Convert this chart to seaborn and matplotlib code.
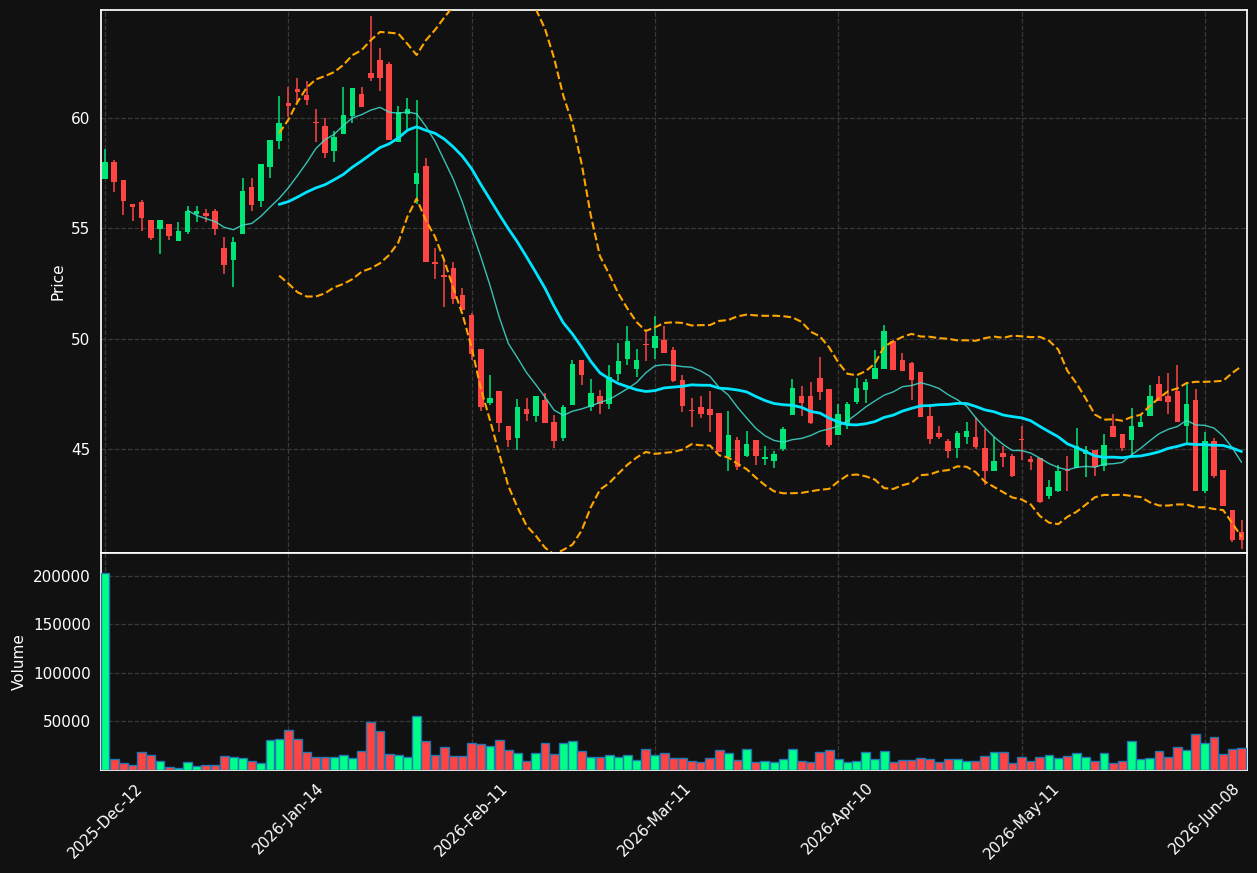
import numpy as np
import pandas as pd
import matplotlib
matplotlib.use("Agg")
import matplotlib.pyplot as plt
import seaborn as sns

# ---- data ----
opens = [57.26, 58.02, 57.20, 56.11, 56.20, 55.38, 54.98, 55.20, 54.44, 54.83,
         55.67, 55.68, 55.79, 54.11, 53.56, 54.76, 56.88, 56.26, 57.76, 58.97,
         60.70, 61.33, 61.03, 59.79, 59.62, 58.50, 59.27, 60.08, 61.10, 62.03,
         62.62, 62.44, 58.91, 60.18, 57.00, 57.81, 53.49, 52.90, 53.22, 52.00,
         51.09, 49.52, 47.06, 47.61, 46.02, 45.48, 46.83, 46.48, 47.20, 46.24,
         45.48, 46.98, 49.02, 46.92, 47.38, 47.02, 48.39, 49.08, 48.61, 49.76,
         49.58, 49.92, 49.47, 48.11, 46.76, 46.92, 46.83, 46.61, 44.62, 45.42,
         44.70, 45.42, 44.53, 44.44, 44.98, 46.53, 47.38, 47.42, 48.20, 47.70,
         45.62, 46.09, 47.12, 47.65, 48.15, 48.62, 49.89, 49.02, 48.89, 48.48,
         46.47, 45.74, 45.38, 45.03, 45.53, 45.52, 45.06, 43.98, 44.83, 44.70,
         45.44, 44.56, 44.58, 42.85, 43.11, 44.03, 44.12, 44.76, 44.95, 44.21,
         46.02, 45.68, 45.41, 45.98, 46.48, 47.92, 47.42, 47.61, 46.06, 47.20,
         43.08, 45.38, 44.06, 42.23, 41.24]
closes = [58.03, 57.08, 56.26, 55.98, 55.48, 54.58, 55.38, 54.67, 54.88, 55.79,
          55.79, 55.58, 54.98, 53.35, 54.38, 56.70, 56.08, 57.92, 59.02, 59.79,
          60.56, 61.16, 60.80, 59.76, 58.41, 59.12, 60.12, 61.35, 60.50, 61.82,
          61.82, 58.99, 60.27, 60.42, 57.52, 53.46, 53.37, 52.78, 51.79, 51.30,
          49.30, 46.92, 47.33, 46.17, 45.42, 46.92, 46.58, 47.41, 46.17, 45.35,
          46.92, 48.83, 48.35, 47.52, 47.02, 48.26, 48.97, 49.88, 49.02, 49.71,
          50.11, 49.35, 48.06, 46.94, 46.73, 46.56, 46.53, 44.85, 45.61, 44.17,
          45.24, 44.70, 44.65, 44.79, 45.92, 47.74, 47.08, 46.17, 47.58, 45.17,
          46.56, 47.02, 47.74, 48.03, 48.67, 50.33, 48.58, 48.53, 48.12, 46.44,
          45.44, 45.53, 44.89, 45.74, 45.79, 45.08, 43.98, 44.45, 44.62, 43.76,
          45.41, 44.39, 42.60, 43.26, 44.02, 43.98, 45.12, 44.95, 44.20, 45.18,
          45.56, 45.02, 46.02, 46.24, 47.42, 47.17, 47.12, 46.21, 47.02, 43.08,
          45.38, 43.79, 42.39, 40.88, 40.88]
highs = [58.59, 58.11, 57.20, 56.11, 56.29, 55.38, 55.38, 55.20, 55.27, 56.00,
         56.00, 55.86, 55.86, 54.61, 54.61, 57.27, 57.27, 57.92, 59.02, 61.02,
         61.42, 61.82, 61.69, 60.42, 60.02, 59.41, 61.41, 61.35, 61.42, 64.61,
         63.19, 62.54, 60.53, 60.92, 60.83, 58.21, 54.12, 53.54, 53.46, 52.31,
         51.15, 49.55, 48.33, 47.61, 46.02, 47.24, 47.33, 47.41, 47.53, 46.55,
         46.97, 49.02, 49.02, 48.15, 47.65, 48.80, 49.80, 50.58, 49.55, 50.30,
         51.02, 50.58, 49.62, 48.33, 47.32, 47.38, 47.61, 46.61, 46.70, 45.53,
         45.79, 45.42, 45.11, 44.92, 45.98, 48.15, 47.83, 48.02, 49.15, 47.70,
         47.02, 47.11, 48.20, 48.18, 49.50, 50.61, 49.95, 49.36, 48.95, 48.48,
         47.05, 46.02, 45.45, 45.79, 46.23, 46.44, 45.91, 45.53, 45.15, 44.77,
         46.02, 44.70, 44.58, 43.59, 44.29, 44.70, 45.95, 45.11, 44.95, 45.68,
         46.59, 45.68, 46.86, 46.52, 47.91, 48.30, 48.45, 48.82, 47.98, 47.73,
         45.76, 45.50, 44.06, 42.23, 41.77]
lows = [57.26, 56.67, 55.59, 55.35, 54.86, 54.45, 53.85, 54.45, 54.44, 54.76,
        55.27, 55.27, 54.68, 52.95, 52.35, 54.76, 55.77, 55.98, 57.27, 58.59,
        60.03, 60.73, 60.60, 58.93, 58.20, 58.00, 59.27, 59.77, 60.50, 61.68,
        61.21, 58.99, 58.91, 59.52, 56.11, 53.46, 52.71, 51.42, 51.57, 51.30,
        49.05, 46.71, 46.97, 45.76, 45.08, 44.95, 46.27, 46.23, 46.17, 45.05,
        45.35, 46.98, 47.91, 46.74, 46.59, 46.82, 48.06, 48.82, 48.26, 48.98,
        49.08, 49.35, 48.03, 46.67, 45.98, 46.39, 45.76, 44.85, 43.98, 44.05,
        44.62, 44.27, 44.27, 44.14, 44.92, 46.53, 46.48, 46.12, 47.23, 45.08,
        45.62, 45.88, 47.02, 47.09, 48.15, 48.62, 48.58, 48.53, 47.21, 46.44,
        45.23, 45.45, 44.59, 44.59, 45.23, 45.00, 43.38, 43.98, 44.17, 43.71,
        44.50, 44.05, 42.55, 42.73, 43.03, 43.11, 44.12, 43.71, 43.79, 44.02,
        45.56, 44.89, 44.70, 45.98, 46.48, 47.17, 46.59, 46.21, 45.26, 43.08,
        42.98, 43.68, 42.39, 40.76, 40.44]
volumes = [203000, 11000, 7500, 4800, 18200, 15000, 8900, 2700, 1700, 7900,
           3800, 4800, 4800, 14000, 13000, 12000, 8900, 6800, 30500, 31500,
           40800, 31500, 18200, 13000, 13000, 13000, 15000, 12000, 19200, 49000,
           39700, 16100, 15000, 13000, 55100, 29500, 15000, 23300, 14000, 14000,
           27400, 26400, 24300, 30500, 20200, 17100, 8900, 17100, 27400, 16100,
           27400, 29500, 19200, 13000, 13000, 15000, 13000, 15000, 9900, 21200,
           15000, 17100, 12000, 12000, 8900, 7900, 12000, 20200, 17100, 9900,
           21200, 7900, 8900, 7900, 11000, 21200, 8900, 7900, 18200, 20200,
           11000, 7900, 8900, 18200, 11000, 19200, 7900, 9900, 9900, 12000,
           11000, 7900, 11000, 11000, 8900, 8900, 14000, 18200, 18200, 6800,
           13000, 8900, 13000, 15000, 12000, 14000, 17100, 13000, 8900, 17100,
           6800, 8900, 29500, 11000, 12000, 19200, 13000, 23300, 20200, 36600,
           27400, 33600, 16100, 21200, 22300]
tick_labels = ["2025-Dec-12", "2026-Jan-14", "2026-Feb-11", "2026-Mar-11",
               "2026-Apr-10", "2026-May-11", "2026-Jun-08"]

# ---- derived frame ----
df = pd.DataFrame({"open": opens, "high": highs, "low": lows,
                   "close": closes, "volume": volumes})
df["idx"] = np.arange(len(df))
df["sma10"] = df["close"].rolling(10).mean()
df["sma20"] = df["close"].rolling(20).mean()
std20 = df["close"].rolling(20).std()
df["bb_up"] = df["sma20"] + 2 * std20
df["bb_lo"] = df["sma20"] - 2 * std20
up = df["close"] >= df["open"]

BG = "#111111"
GREEN = "#00e676"
VGREEN = "#00ff88"
RED = "#ff4444"

sns.set_theme(style="dark")
plt.rcParams["font.family"] = ["DejaVu Sans"]

fig = plt.figure(figsize=(12.57, 8.73), dpi=100, facecolor=BG)
W, H = 1257, 873
ax = fig.add_axes([101 / W, (H - 553) / H, 1146 / W, 543 / H])
axv = fig.add_axes([101 / W, (H - 770) / H, 1146 / W, 217 / H], sharex=ax)

for a in (ax, axv):
    a.set_facecolor(BG)
    a.grid(True, color="#444444", linestyle="--", linewidth=0.9, alpha=0.8)
    for s in a.spines.values():
        s.set_color("white")
    a.tick_params(colors="white", labelcolor="white", length=4)

# candlesticks
colors = np.where(up, GREEN, RED)
ax.vlines(df["idx"], df["low"], df["high"], colors=colors, linewidth=1.1, zorder=2)
body_bottom = np.minimum(df["open"], df["close"])
body_height = np.maximum((df["close"] - df["open"]).abs(), 0.04)
ax.bar(df["idx"], body_height, bottom=body_bottom, width=0.6, color=colors,
       linewidth=0, zorder=3)

# moving averages and bands
sns.lineplot(data=df, x="idx", y="sma10", ax=ax, color="#40e0d0", linewidth=1.0,
             alpha=0.85, zorder=4)
sns.lineplot(data=df, x="idx", y="sma20", ax=ax, color="#00e5ff", linewidth=2.0,
             zorder=5)
sns.lineplot(data=df, x="idx", y="bb_up", ax=ax, color="#ffa500", linewidth=1.5,
             linestyle="--", zorder=4)
sns.lineplot(data=df, x="idx", y="bb_lo", ax=ax, color="#ffa500", linewidth=1.5,
             linestyle="--", zorder=4)

ax.set_ylim(40.28, 64.9)
ax.set_xlim(-0.44, 124.6)
ax.set_ylabel("Price", color="white", fontsize=11)
ax.set_xlabel("")
ax.set_yticks([45, 50, 55, 60])
ax.tick_params(axis="x", labelbottom=False, length=0)

# volume
vcolors = np.where(up, VGREEN, RED)
axv.bar(df["idx"], df["volume"], width=0.97, color=vcolors, edgecolor="#1f77b4",
        linewidth=1.0, zorder=3)
axv.set_ylim(0, 223300)
axv.set_yticks([50000, 100000, 150000, 200000])
axv.set_yticklabels(["50000", "100000", "150000", "200000"])
axv.set_ylabel("Volume", color="white", fontsize=11)
tick_pos = np.arange(0, 20 * len(tick_labels), 20)
axv.set_xticks(tick_pos)
axv.set_xticklabels(tick_labels, rotation=45, ha="center", fontsize=11)
axv.set_xlabel("")
for a in (ax, axv):
    for lbl in a.get_yticklabels():
        lbl.set_fontsize(11)

fig.savefig("out.png", dpi=100, facecolor=BG)
